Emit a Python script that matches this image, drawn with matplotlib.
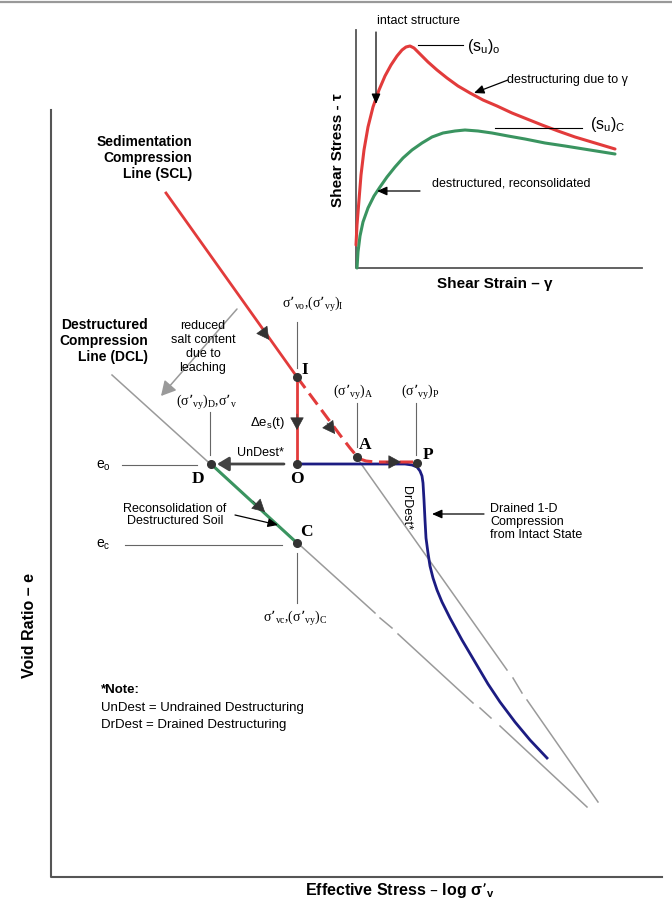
import matplotlib.pyplot as plt

# everything is placed in picture coordinates (x to the right, y downwards)
RED = '#e23b3b'
GREEN = '#3a9460'
BLUE = '#1c1c82'
DARK = '#333333'
GREY = '#9a9a9a'
LEAD = '#666666'

# inset: shear stress vs shear strain
intact_x = [356, 357, 359, 361, 364, 368, 373, 379, 385, 391, 397, 402, 406, 410, 414, 420, 428,
            437, 447, 458, 470, 483, 497, 512, 527, 542, 558, 575, 595, 615]
intact_y = [245, 225, 200, 175, 150, 127, 107, 90, 76, 65, 56, 50, 47, 46, 48, 54, 62,
            70, 78, 86, 93, 100, 106, 113, 119, 125, 131, 137, 143, 149]
destr_x = [357, 358, 360, 363, 368, 374, 380, 387, 395, 403, 412, 422, 432, 443, 455, 465,
           478, 492, 508, 525, 545, 565, 590, 615]
destr_y = [268, 252, 236, 222, 208, 196, 187, 177, 167, 158, 150, 143, 137, 133, 131, 130,
           131, 133, 136, 139, 143, 146, 150, 154]

# main plot: void ratio vs log effective stress
scl_x = [166, 297]
scl_y = [193, 377]
io_x = [297, 297]
io_y = [377, 464]
iap_x = [297, 320, 340, 350, 355, 360, 366, 375, 395, 417]
iap_y = [377, 408, 435, 448, 454, 459, 461, 462, 462, 462]
drained_x = [297, 395, 405, 412, 417, 420, 422, 423, 424, 425, 426, 428, 430, 433, 437, 442,
             450, 462, 475, 488, 500, 515, 530, 547]
drained_y = [464, 464, 464, 465, 467, 471, 476, 483, 500, 520, 538, 553, 566, 578, 590, 602,
             618, 640, 662, 684, 702, 722, 740, 758]
dc_x = [211, 297]
dc_y = [464, 543]

# grey compression lines, drawn in pieces (the gaps are in the original)
dcl_segments = [((112, 375), (375, 613)), ((380, 618), (392, 628)), ((398, 634), (473, 703)),
                ((480, 708), (491, 718)), ((500, 726), (587, 807))]
scl_ext_segments = [((357, 458), (507, 670)), ((513, 678), (522, 693)), ((527, 700), (598, 802))]

point_names = ['I', 'A', 'P', 'O', 'D', 'C']
point_x = [297, 357, 417, 297, 211, 297]
point_y = [377, 457, 463, 464, 464, 543]
name_x = [305, 365, 428, 297, 198, 306]
name_y = [370, 445, 455, 479, 479, 532]

fig = plt.figure(figsize=(6.72, 9.02), dpi=100)
ax = fig.add_axes([0, 0, 1, 1])
ax.set_xlim(0, 672)
ax.set_ylim(902, 0)
ax.axis('off')

SANS = 'Liberation Sans'
SERIF = 'Liberation Serif'

# top border
ax.plot([0, 672], [1.5, 1.5], color='#999999', lw=1.6)

# ---- inset axes ----
ax.plot([356, 356, 642], [30, 268, 268], color='#555555', lw=1.3)
ax.plot(intact_x, intact_y, color=RED, lw=2.2, solid_capstyle='round', solid_joinstyle='round')
ax.plot(destr_x, destr_y, color=GREEN, lw=2.2, solid_capstyle='round', solid_joinstyle='round')
ax.text(338, 150, 'Shear Stress - τ', rotation=90, ha='center', va='center',
        fontsize=11, fontweight='bold', family=SANS)
ax.text(495, 284, 'Shear Strain – γ', ha='center', va='center',
        fontsize=11, fontweight='bold', family=SANS)

arrow_k = dict(arrowstyle='-|>,head_length=0.5,head_width=0.22', color='black', lw=0.9,
               mutation_scale=12, shrinkA=0, shrinkB=0)
ax.text(377, 21, 'intact structure', fontsize=9, family=SANS, va='center')
ax.annotate('', xy=(376, 104), xytext=(376, 32), arrowprops=arrow_k)
ax.plot([418, 463], [45, 45], color='black', lw=0.8)
ax.text(467, 46, r'$\mathregular{(s_u)_o}$', fontsize=11.5, family=SANS, va='center')
ax.text(507, 80, 'destructuring due to γ', fontsize=9, family=SANS, va='center')
ax.annotate('', xy=(474, 93), xytext=(508, 80), arrowprops=arrow_k)
ax.plot([495, 582], [128, 128], color='black', lw=0.8)
ax.text(590, 125, r'$\mathregular{(s_u)_C}$', fontsize=11.5, family=SANS, va='center')
ax.text(432, 183, 'destructured, reconsolidated', fontsize=9, family=SANS, va='center')
ax.annotate('', xy=(377, 191), xytext=(420, 191), arrowprops=arrow_k)

# ---- main axes ----
ax.plot([51, 51, 662], [110, 877, 877], color='#555555', lw=1.5)
ax.text(30, 626, 'Void Ratio – e', rotation=90, ha='center', va='center',
        fontsize=11.5, fontweight='bold', family=SANS)
ax.text(400, 891, r'Effective Stress – log $\mathregular{σ’_v}$', ha='center', va='center',
        fontsize=11.5, fontweight='bold', family=SANS)

for (x0, y0), (x1, y1) in dcl_segments + scl_ext_segments:
    ax.plot([x0, x1], [y0, y1], color=GREY, lw=1.1)

# leader lines
leaders_x = [[297, 297], [357, 357], [416, 416], [210, 210], [297, 297], [122, 197], [125, 282]]
leaders_y = [[322, 368], [403, 447], [403, 455], [412, 455], [553, 603], [465, 465], [545, 545]]
for lx, ly in zip(leaders_x, leaders_y):
    ax.plot(lx, ly, color=LEAD, lw=0.8)

# paths
ax.plot(scl_x, scl_y, color=RED, lw=2.0)
ax.plot(io_x, io_y, color=RED, lw=2.0)
ax.plot(drained_x, drained_y, color=BLUE, lw=2.0, solid_joinstyle='round')
ax.plot(iap_x, iap_y, color=RED, lw=2.2, dashes=(4.5, 2.2), zorder=3)
ax.plot(dc_x, dc_y, color=GREEN, lw=2.2)

# arrow heads sitting on the paths
head = dict(arrowstyle='-|>,head_length=0.55,head_width=0.3', color=DARK, lw=0.5,
            mutation_scale=15, shrinkA=0, shrinkB=0)
heads = [((262, 330), (269, 339.8)), ((297, 414), (297, 430)), ((327, 423), (335, 434)),
         ((386, 462), (401, 462)), ((253, 501), (265, 512))]
for tail, tip in heads:
    ax.annotate('', xy=tip, xytext=tail, arrowprops=head, zorder=4)

# UnDest arrow O -> D
ax.annotate('', xy=(217, 464), xytext=(284, 464),
            arrowprops=dict(arrowstyle='-|>,head_length=0.5,head_width=0.3', color='#444444',
                            lw=2.0, mutation_scale=14, shrinkA=0, shrinkB=0))
ax.text(260, 453, 'UnDest*', fontsize=9, family=SANS, ha='center', va='center')

# leaching arrow
ax.annotate('', xy=(161, 396), xytext=(237, 309),
            arrowprops=dict(arrowstyle='-|>,head_length=0.55,head_width=0.3', color=GREY,
                            lw=1.1, mutation_scale=16, shrinkA=0, shrinkB=0))
ax.text(203, 347, 'reduced\nsalt content\ndue to\nleaching', fontsize=9, family=SANS,
        ha='center', va='center', linespacing=1.2)

ax.plot(point_x, point_y, 'o', color=DARK, ms=5.5, zorder=5)
for nm, nx, ny in zip(point_names, name_x, name_y):
    ax.text(nx, ny, nm, fontsize=12.5, fontweight='bold', family=SERIF,
            ha='center', va='center')

# stress labels
ax.text(313, 305, r'$\mathregular{σ’_{vo}{,}(σ’_{vy})_I}$', fontsize=10, family=SERIF, ha='center', va='center')
ax.text(353, 392, r'$\mathregular{(σ’_{vy})_A}$', fontsize=10, family=SERIF, ha='center', va='center')
ax.text(420, 392, r'$\mathregular{(σ’_{vy})_P}$', fontsize=10, family=SERIF, ha='center', va='center')
ax.text(207, 403, r'$\mathregular{(σ’_{vy})_D{,}σ’_v}$', fontsize=10, family=SERIF, ha='center', va='center')
ax.text(295, 618, r'$\mathregular{σ’_{vc}{,}(σ’_{vy})_C}$', fontsize=10, family=SERIF, ha='center', va='center')
ax.text(285, 423, r'$\mathregular{Δe_s(t)}$', fontsize=9.5, family=SANS, ha='right', va='center')
ax.text(103, 466, r'$\mathregular{e_o}$', fontsize=10, family=SANS, ha='center', va='center')
ax.text(103, 545, r'$\mathregular{e_c}$', fontsize=10, family=SANS, ha='center', va='center')

ax.text(192, 158, 'Sedimentation\nCompression\nLine (SCL)', fontsize=10, fontweight='bold',
        family=SANS, ha='right', va='center', linespacing=1.15)
ax.text(148, 341, 'Destructured\nCompression\nLine (DCL)', fontsize=10, fontweight='bold',
        family=SANS, ha='right', va='center', linespacing=1.15)

ax.text(175, 515, 'Reconsolidation of\nDestructured Soil', fontsize=9, family=SANS,
        ha='center', va='center', linespacing=1.1)
ax.annotate('', xy=(278, 525), xytext=(235, 515), arrowprops=arrow_k)

ax.text(406, 508, 'DrDest*', rotation=270, fontsize=9, family=SANS, ha='center', va='center')
ax.text(490, 522, 'Drained 1-D\nCompression\nfrom Intact State', fontsize=9, family=SANS,
        ha='left', va='center', linespacing=1.1)
ax.annotate('', xy=(432, 514), xytext=(484, 514), arrowprops=arrow_k)

ax.text(101, 690, '*Note:', fontsize=9.5, fontweight='bold', family=SANS, va='center')
ax.text(101, 708, 'UnDest = Undrained Destructuring', fontsize=9.5, family=SANS, va='center')
ax.text(101, 725, 'DrDest = Drained Destructuring', fontsize=9.5, family=SANS, va='center')

fig.savefig('out.png', dpi=100)
